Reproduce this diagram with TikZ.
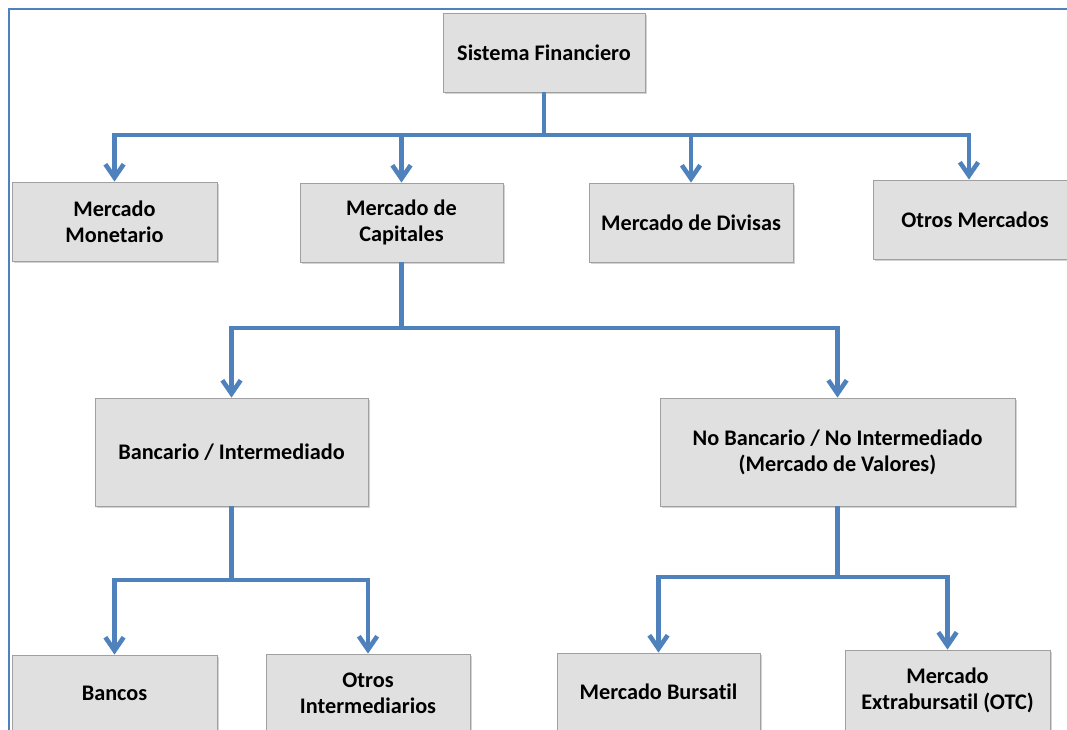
\documentclass[tikz,border=0pt]{standalone}
\usepackage{fontspec}
\setmainfont{Carlito}[Ligatures={NoCommon}]
\usetikzlibrary{arrows.meta,shadows}
\definecolor{linkblue}{HTML}{4F81BD}
\definecolor{boxgray}{HTML}{E0E0E0}
\definecolor{boxedge}{HTML}{A0A0A0}

\begin{document}
\begin{tikzpicture}[x=0.03cm,y=-0.03cm,
	squarednode/.style={rectangle,draw=boxedge,fill=boxgray,line width=0.7pt,inner sep=0pt,align=center,
		font=\fontsize{19}{22}\selectfont\bfseries,
		drop shadow={shadow xshift=1.4pt,shadow yshift=-1.4pt,opacity=0.35}},
	link/.style={draw=linkblue,line width=3.9pt,-{Straight Barb[length=0.4cm,width=0.55cm]}}]
	
	\clip (0,0) rectangle (1067,729);
	\draw[linkblue,line width=1.2pt] (9,740) -- (9,9) -- (1080,9);
	
	\node [squarednode,minimum width=6.06cm,minimum height=2.37cm] (sis) at (544,52.5) {Sistema Financiero};
	
	\node [squarednode,minimum width=6.15cm,minimum height=2.37cm] (mon) at (114.5,221.5) {Mercado\\Monetario};
	\node [squarednode,minimum width=6.09cm,minimum height=2.37cm] (cap) at (401.5,222.5) {Mercado de\\Capitales};
	\node [squarednode,minimum width=6.12cm,minimum height=2.37cm] (div) at (691,222.5) {Mercado de Divisas};
	\node [squarednode,minimum width=6.12cm,minimum height=2.37cm] (otm) at (975,219.5) {Otros Mercados};
	
	\node [squarednode,minimum width=8.19cm,minimum height=3.24cm] (ban) at (231.5,452) {Bancario / Intermediado};
	\node [squarednode,minimum width=10.65cm,minimum height=3.24cm] (nob) at (837.5,452) {No Bancario / No Intermediado\\(Mercado de Valores)};
	
	\node [squarednode,minimum width=6.15cm,minimum height=2.31cm] (bco) at (114.5,693.5) {Bancos};
	\node [squarednode,minimum width=6.12cm,minimum height=2.34cm] (oin) at (368,693) {Otros\\Intermediarios};
	\node [squarednode,minimum width=6.09cm,minimum height=2.34cm] (bur) at (658.5,692) {Mercado Bursatil};
	\node [squarednode,minimum width=6.15cm,minimum height=2.40cm] (ext) at (947.5,690) {Mercado\\Extrabursatil (OTC)};
	
	% ramas
	\coordinate (t0) at (544,135);
	\coordinate (t1) at (401.5,328);
	\coordinate (t2) at (231.5,580);
	\coordinate (t3) at (837.5,577);
	
	\draw[link] (sis.south) -- (t0) -| (mon.north);
	\draw[link] (sis.south) -- (t0) -| (cap.north);
	\draw[link] (sis.south) -- (t0) -| (div.north);
	\draw[link] (sis.south) -- (t0) -| ([xshift=-0.18cm]otm.north);
	
	\draw[link] (cap.south) -- (t1) -| (ban.north);
	\draw[link] (cap.south) -- (t1) -| (nob.north);
	
	\draw[link] (ban.south) -- (t2) -| (bco.north);
	\draw[link] (ban.south) -- (t2) -| (oin.north);
	
	\draw[link] (nob.south) -- (t3) -| (bur.north);
	\draw[link] (nob.south) -- (t3) -| (ext.north);
\end{tikzpicture}
\end{document}
